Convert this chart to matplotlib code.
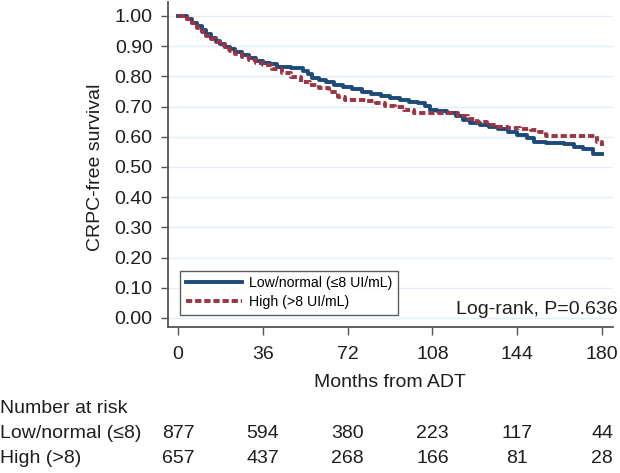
import matplotlib
matplotlib.use("Agg")
import matplotlib.pyplot as plt
import matplotlib.transforms as mtransforms

plt.rcParams['font.family'] = ['Liberation Sans', 'DejaVu Sans']

# Kaplan-Meier curves (months, survival)
low_t = [0, 2, 4, 6, 8, 10, 12, 14, 16, 18, 20, 22, 24, 27, 30, 33, 36, 39, 42,
         45, 48, 51, 53, 55, 57, 60, 63, 66, 70, 74, 78, 82, 86, 90, 94, 98, 102,
         105, 107, 110, 114, 118, 121, 124, 128, 132, 136, 140, 144, 148, 151,
         156, 160, 164, 168, 172, 176, 180]
low_s = [1.0, 0.998, 0.99, 0.978, 0.965, 0.952, 0.94, 0.928, 0.918, 0.908, 0.898,
         0.89, 0.882, 0.872, 0.86, 0.85, 0.845, 0.84, 0.832, 0.83, 0.828, 0.826,
         0.818, 0.808, 0.795, 0.788, 0.78, 0.772, 0.765, 0.757, 0.748, 0.74,
         0.735, 0.728, 0.72, 0.715, 0.71, 0.703, 0.69, 0.685, 0.68, 0.67, 0.655,
         0.645, 0.64, 0.632, 0.625, 0.615, 0.605, 0.595, 0.583, 0.58, 0.578,
         0.576, 0.565, 0.56, 0.543, 0.543]

high_t = [0, 3, 4, 6, 8, 10, 12, 14, 16, 18, 20, 22, 24, 27, 30, 33, 36, 40, 44,
          48, 52, 56, 60, 64, 68, 71, 76, 80, 84, 88, 92, 96, 100, 105, 110, 115,
          119, 123, 127, 131, 135, 140, 145, 150, 153, 156, 160, 165, 170, 176,
          178, 180]
high_s = [1.0, 0.998, 0.99, 0.975, 0.96, 0.948, 0.935, 0.922, 0.912, 0.902, 0.892,
          0.883, 0.875, 0.865, 0.853, 0.843, 0.837, 0.825, 0.812, 0.797, 0.782,
          0.77, 0.76, 0.748, 0.733, 0.72, 0.72, 0.718, 0.71, 0.703, 0.697, 0.69,
          0.68, 0.68, 0.68, 0.678, 0.667, 0.66, 0.65, 0.64, 0.632, 0.628, 0.625,
          0.622, 0.615, 0.603, 0.603, 0.603, 0.603, 0.603, 0.583, 0.57]

x_ticks = [0, 36, 72, 108, 144, 180]
y_ticks = [0.0, 0.1, 0.2, 0.3, 0.4, 0.5, 0.6, 0.7, 0.8, 0.9, 1.0]
risk_low = [877, 594, 380, 223, 117, 44]
risk_high = [657, 437, 268, 166, 81, 28]

blue = '#1d4b79'
red = '#9c3443'
txt = '#1e1e1e'
fs = 14
W, H = 620, 473

fig = plt.figure(figsize=(W / 100, H / 100), dpi=100)
ax = fig.add_axes([168 / W, 1 - 327 / H, (613 - 168) / W, (327 - 2) / H])

ax.plot(low_t, low_s, drawstyle='steps-post', color=blue, lw=2.8,
        label='Low/normal (≤8 UI/mL)', zorder=3)
ax.plot(high_t, high_s, drawstyle='steps-post', color=red, lw=2.8,
        dashes=(1.6, 0.75), label='High (>8 UI/mL)', zorder=3)

ax.set_xlim(-4.24, 184.6)
ax.set_ylim(-0.03, 1.046)
ax.set_xticks(x_ticks)
ax.set_yticks(y_ticks)
ax.set_yticklabels([f'{v:.2f}' for v in y_ticks])
ax.yaxis.grid(True, color='#e4edf3', lw=1)
ax.set_axisbelow(True)

for side in ['top', 'right']:
    ax.spines[side].set_visible(False)
for side in ['left', 'bottom']:
    ax.spines[side].set_color('#555555')
    ax.spines[side].set_linewidth(1.3)
ax.tick_params(axis='y', length=5, width=1, color='#555555', pad=6,
               labelsize=fs, labelcolor=txt)
ax.tick_params(axis='x', length=5.5, width=1, color='#555555', pad=8,
               labelsize=fs, labelcolor=txt)

leg = ax.legend(loc='lower left', bbox_to_anchor=(0.011, 0.015), fontsize=10.2,
                frameon=True, fancybox=False, handlelength=4.0,
                borderpad=0.4, labelspacing=0.35, handletextpad=0.45)
leg.get_frame().set_edgecolor('#333333')
leg.get_frame().set_linewidth(1.0)

ax.text(1.01, 0.055, 'Log-rank, P=0.636', transform=ax.transAxes,
        ha='right', va='center', fontsize=fs, color=txt)

fig.text(95 / W, 1 - 167 / H, 'CRPC-free survival', rotation=90,
         ha='center', va='center', fontsize=fs, color=txt)
fig.text(390 / W, 1 - 382 / H, 'Months from ADT', ha='center', va='center',
         fontsize=fs, color=txt)

# number at risk table
fig.text(0, 1 - 408 / H, 'Number at risk', ha='left', va='center',
         fontsize=fs, color=txt)
fig.text(0, 1 - 433 / H, 'Low/normal (≤8)', ha='left', va='center',
         fontsize=fs, color=txt)
fig.text(0, 1 - 458 / H, 'High (>8)', ha='left', va='center',
         fontsize=fs, color=txt)
trans = mtransforms.blended_transform_factory(ax.transData, fig.transFigure)
for t, a, b in zip(x_ticks, risk_low, risk_high):
    ax.text(t, 1 - 433 / H, str(a), transform=trans, ha='center', va='center',
            fontsize=fs, color=txt, clip_on=False)
    ax.text(t, 1 - 458 / H, str(b), transform=trans, ha='center', va='center',
            fontsize=fs, color=txt, clip_on=False)

fig.savefig('out.png', dpi=100)
